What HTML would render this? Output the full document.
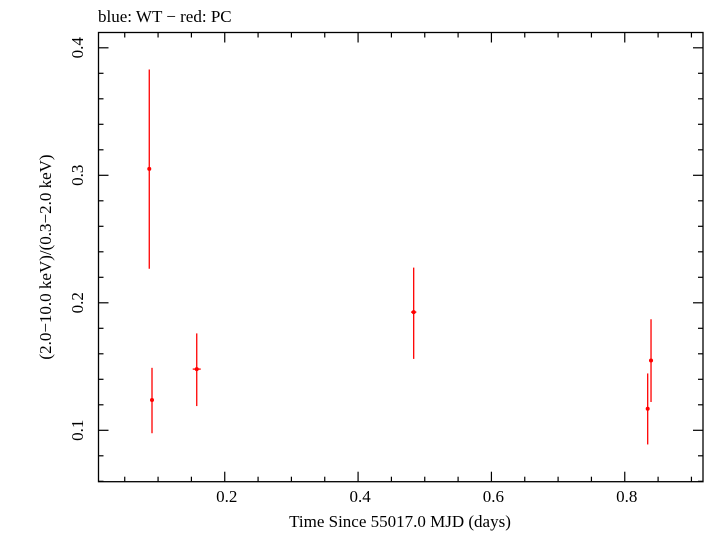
<!DOCTYPE html>
<html><head><meta charset="utf-8"><style>
body{margin:0;background:#fff;width:705px;height:532px;overflow:hidden}
text{font-family:"Liberation Serif",serif;fill:#000}
</style></head><body>
<svg id="chart" width="705" height="532">
<text x="98" y="22" font-size="17">blue: WT − red: PC</text>
<rect x="98.5" y="32.5" width="604.5" height="449.2" fill="none" stroke="#000" stroke-width="1.3"/>
<g id="axes"></g>
<g id="points"></g>
<text x="400" y="527" font-size="17" text-anchor="middle">Time Since 55017.0 MJD (days)</text>
<text transform="translate(51,257) rotate(-90)" font-size="17" text-anchor="middle">(2.0−10.0 keV)/(0.3−2.0 keV)</text>
</svg>
<script>
const xs=[0.0868,0.0909,0.158,0.4834,0.8344,0.8394];
const ys=[0.305,0.1238,0.148,0.1927,0.1169,0.1547];
const yHi=[0.383,0.149,0.176,0.2276,0.1446,0.1871];
const yLo=[0.2267,0.0977,0.119,0.156,0.0889,0.1222];
const xErr=[0.002,0.002,0.006,0.004,0.002,0.003];
const xTicks=[0.2,0.4,0.6,0.8];
const yTicks=[0.1,0.2,0.3,0.4];
const L=98.5,R=703,T=32.5,B=481.7;
const X=v=>91.4+v*666.7;
const Y=v=>175.3-(v-0.3)*1275;
const NS="http://www.w3.org/2000/svg";
const ax=document.getElementById('axes'),pg=document.getElementById('points');
function mk(p,tag,a){const e=document.createElementNS(NS,tag);for(const k in a)e.setAttribute(k,a[k]);p.appendChild(e);return e;}
for(let v=0.05;v<0.92;v+=0.05){const x=X(v);const major=Math.abs(v*10-Math.round(v*10))<1e-6&&Math.round(v*10)%2===0;const len=major?10:5;
const t1=mk(ax,'line',{x1:x,x2:x,y1:B,y2:B-len,stroke:'#000','stroke-width':1.2});


const t2=mk(ax,'line',{x1:x,x2:x,y1:T,y2:T+len,stroke:'#000','stroke-width':1.2});

}
for(let i=3;i<=20;i++){const v=i*0.02;const y=Y(v);if(y<T||y>B)continue;const major=i%5===0;const len=major?10:5;
const t1=mk(ax,'line',{x1:L,x2:L+len,y1:y,y2:y,stroke:'#000','stroke-width':1.2});


const t2=mk(ax,'line',{x1:R,x2:R-len,y1:y,y2:y,stroke:'#000','stroke-width':1.2});

}
xTicks.forEach(v=>{const t=mk(ax,'text',{x:X(v)+2,y:502,'font-size':17,'text-anchor':'middle'});t.textContent=v.toFixed(1);

});
yTicks.forEach(v=>{const t=mk(ax,'text',{transform:`translate(83,${Y(v)}) rotate(-90)`,'font-size':17,'text-anchor':'middle'});t.textContent=v.toFixed(1);

});
xs.forEach((v,i)=>{const g=mk(pg,'g',{});


mk(g,'line',{x1:X(v),x2:X(v),y1:Y(yHi[i]),y2:Y(yLo[i]),stroke:'#f00','stroke-width':1.3});
mk(g,'line',{x1:X(v-xErr[i]),x2:X(v+xErr[i]),y1:Y(ys[i]),y2:Y(ys[i]),stroke:'#f00','stroke-width':1.3});
mk(g,'circle',{cx:X(v),cy:Y(ys[i]),r:2,fill:'#f00'});});
</script>
</body></html>
